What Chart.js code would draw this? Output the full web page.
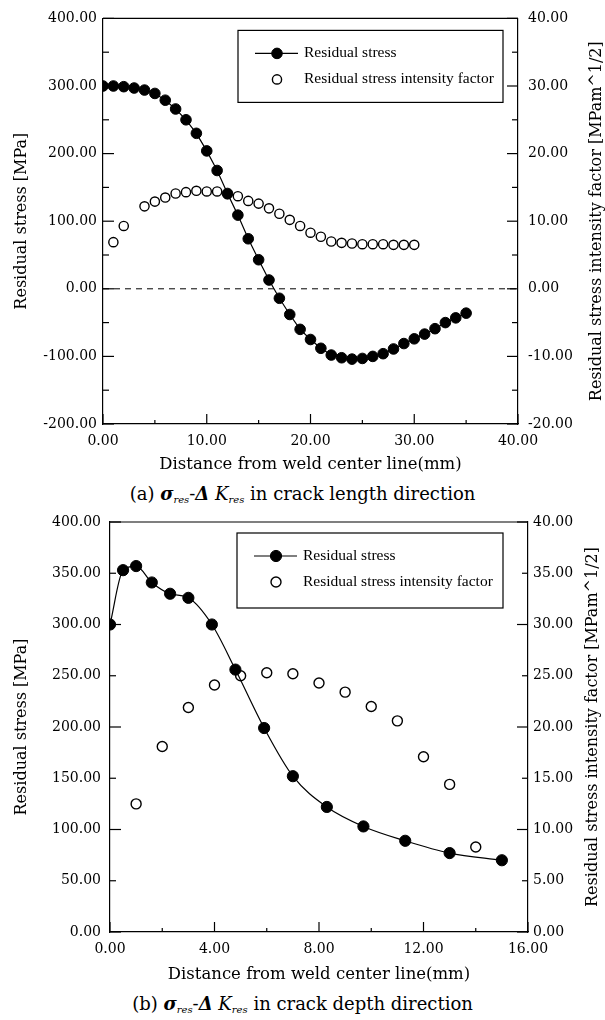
<!DOCTYPE html>
<html><head><meta charset="utf-8">
<script src="https://cdn.jsdelivr.net/npm/chart.js@4.4.1/dist/chart.umd.min.js"></script>
<style>
html,body{margin:0;padding:0;background:#fff;}
body{width:605px;height:1020px;position:relative;overflow:hidden;font-family:"DejaVu Serif",serif;color:#000;}
canvas{position:absolute;left:0;}
.cap{position:absolute;left:0;width:605px;text-align:center;font-size:18px;line-height:22px;white-space:nowrap;}
.cap sub{font-size:10px;line-height:0;vertical-align:-3px;font-style:italic;}
.cap .g{font-style:italic;font-weight:bold;}
.cap .d{font-style:italic;font-weight:bold;}
</style></head><body>
<canvas id="c1" width="605" height="480" style="top:0px"></canvas>
<div class="cap" style="top:483px">(a) <span class="g">σ</span><sub>res</sub>-<span class="d">Δ</span> <i>K</i><sub>res</sub> in crack length direction</div>
<canvas id="c2" width="605" height="490" style="top:500px"></canvas>
<div class="cap" style="top:993px">(b) <span class="g">σ</span><sub>res</sub>-<span class="d">Δ</span> <i>K</i><sub>res</sub> in crack depth direction</div>
<script>
// ---------- DATA ----------
// (a) crack length direction
const topStressX = [0,1,2,3,4,5,6,7,8,9,10,11,12,13,14,15,16,17,18,19,20,21,22,23,24,25,26,27,28,29,30,31,32,33,34,35];
const topStressY = [300,300,299,297,294,289,279,266,250,230,204,175,141,109,74,43,13,-14,-38,-60,-75,-88,-98,-102,-104,-103,-100,-96,-89,-81,-74,-67,-59,-50,-43,-36];
const topKX = [1,2,4,5,6,7,8,9,10,11,12,13,14,15,16,17,18,19,20,21,22,23,24,25,26,27,28,29,30];
const topKY = [6.9,9.3,12.2,12.9,13.5,14.1,14.3,14.5,14.4,14.4,14.0,13.7,13.0,12.6,11.9,11.1,10.2,9.3,8.3,7.7,7.0,6.8,6.7,6.6,6.6,6.6,6.5,6.5,6.5];
const topZeroX = [0,40];
const topZeroY = [0,0];
// (b) crack depth direction
const botStressX = [0,0.5,1.0,1.6,2.3,3.0,3.9,4.8,5.9,7.0,8.3,9.7,11.3,13.0,15.0];
const botStressY = [300,353,357,341,330,326,300,256,199,152,122,103,89,77,70];
const botKX = [1,2,3,4,5,6,7,8,9,10,11,12,13,14];
const botKY = [12.5,18.1,21.9,24.1,25.0,25.3,25.2,24.3,23.4,22.0,20.6,17.1,14.4,8.3];

// tick values (all tick marks) and labelled ticks
const topXTicks = [0,5,10,15,20,25,30,35,40];
const topXLabels = [0,10,20,30,40];
const topYTicks = [-200,-150,-100,-50,0,50,100,150,200,250,300,350,400];
const topYLabels = [-200,-100,0,100,200,300,400];
const topY2Ticks = [-20,-15,-10,-5,0,5,10,15,20,25,30,35,40];
const topY2Labels = [-20,-10,0,10,20,30,40];
const botXTicks = [0,2,4,6,8,10,12,14,16];
const botXLabels = [0,4,8,12,16];
const botYTicks = [0,50,100,150,200,250,300,350,400];
const botYLabels = [0,50,100,150,200,250,300,350,400];
const botY2Ticks = [0,5,10,15,20,25,30,35,40];
const botY2Labels = [0,5,10,15,20,25,30,35,40];

const xTitle = 'Distance from weld center line(mm)';
const yTitle = 'Residual stress [MPa]';
const y2Title = 'Residual stress intensity factor [MPam^1/2]';
const seriesNames = ['Residual stress','Residual stress intensity factor'];

// ---------- HELPERS ----------
Chart.defaults.font.family = '"DejaVu Serif", serif';
Chart.defaults.font.size = 14;
Chart.defaults.color = '#000';

const pts = (xs, ys) => xs.map((x, i) => ({x, y: ys[i]}));

function decor(o) {
  return {
    id: 'decor',
    afterDraw(chart) {
      const ctx = chart.ctx, a = chart.chartArea;
      ctx.save();
      ctx.strokeStyle = '#000';
      ctx.lineWidth = 1.2;
      ctx.beginPath(); ctx.moveTo(a.left, a.top); ctx.lineTo(a.right, a.top); ctx.stroke();
      const tick = (scale, majors, side, big, small) => {
        scale.ticks.forEach(t => {
          const len = majors.includes(t.value) ? big : small;
          const p = scale.getPixelForValue(t.value);
          ctx.beginPath();
          if (side === 'x') { ctx.moveTo(p, a.bottom); ctx.lineTo(p, a.bottom - len); }
          else if (side === 'l') { ctx.moveTo(a.left, p); ctx.lineTo(a.left + len, p); }
          else { ctx.moveTo(a.right, p); ctx.lineTo(a.right - len, p); }
          ctx.stroke();
        });
      };
      tick(chart.scales.x, o.xMajor, 'x', 10, 4);
      tick(chart.scales.y, o.yMajor, 'l', 11, 6);
      tick(chart.scales.y2, o.y2Major, 'r', 11, 6);

      // legend inside plot
      const lx = a.left + o.legend.dx, ly = a.top + o.legend.dy, lw = o.legend.w, lh = o.legend.h;
      ctx.lineWidth = 1.2;
      ctx.strokeRect(lx, ly, lw, lh);
      const ds = chart.data.datasets.filter(d => d.inLegend);
      ds.forEach((d, i) => {
        const cy = ly + 23 + i * 26;
        const cx = lx + 39;
        if (d.showLine !== false) {
          ctx.beginPath(); ctx.lineWidth = 1.2; ctx.moveTo(lx + 17, cy); ctx.lineTo(lx + 60, cy); ctx.stroke();
        }
        ctx.beginPath();
        ctx.arc(cx, cy, d.pointRadius, 0, Math.PI * 2);
        ctx.fillStyle = d.pointBackgroundColor;
        ctx.fill();
        ctx.lineWidth = d.pointBorderWidth;
        ctx.strokeStyle = '#000';
        ctx.stroke();
        ctx.fillStyle = '#000';
        ctx.font = '15.5px "Liberation Serif", serif';
        ctx.textAlign = 'left';
        ctx.textBaseline = 'middle';
        ctx.fillText(d.label, lx + 66, cy);
      });

      // right axis title (reads bottom to top)
      ctx.save();
      ctx.translate(o.y2TitleX, (a.top + a.bottom) / 2);
      ctx.rotate(-Math.PI / 2);
      ctx.font = '16px "DejaVu Serif", serif';
      ctx.textAlign = 'center';
      ctx.textBaseline = 'middle';
      ctx.fillStyle = '#000';
      ctx.fillText(y2Title, 0, 0);
      ctx.restore();
      ctx.restore();
    }
  };
}

function makeChart(id, c) {
  const ticksFrom = (vals) => (s) => { s.ticks = vals.map(v => ({value: v})); };
  const fmt = (labels) => (v) => labels.includes(v) ? v.toFixed(2) : '';
  const datasets = [
    { label: seriesNames[0], inLegend: true, data: pts(c.sX, c.sY), yAxisID: 'y',
      borderColor: '#000', borderWidth: 1.2, backgroundColor: '#000',
      pointBackgroundColor: '#000', pointBorderColor: '#000', pointBorderWidth: 1,
      pointRadius: c.fr, showLine: true, tension: c.tension, cubicInterpolationMode: c.interp },
    { label: seriesNames[1], inLegend: true, data: pts(c.kX, c.kY), yAxisID: 'y2',
      borderColor: '#000', backgroundColor: '#fff', showLine: false,
      pointBackgroundColor: '#fff', pointBorderColor: '#000', pointBorderWidth: 1.4,
      pointRadius: c.or }
  ];
  if (c.zX) {
    datasets.push({ label: '', inLegend: false, data: pts(c.zX, c.zY), yAxisID: 'y',
      borderColor: '#000', borderWidth: 1, borderDash: [6, 5], pointRadius: 0, showLine: true });
  }
  return new Chart(document.getElementById(id), {
    type: 'scatter',
    data: { datasets },
    options: {
      responsive: false, animation: false, devicePixelRatio: 1,
      layout: { padding: { top: c.padTop, left: 0, right: 0, bottom: 0 } },
      plugins: { legend: { display: false }, tooltip: { enabled: false } },
      scales: {
        x: { type: 'linear', min: c.xMin, max: c.xMax,
          afterBuildTicks: ticksFrom(c.xTicks),
          afterFit: (s) => { s.height = c.xH; },
          grid: { display: false, drawTicks: false },
          border: { color: '#000', width: 1.2 },
          ticks: { padding: 9, autoSkip: false, maxRotation: 0, callback: fmt(c.xLabels) },
          title: { display: true, text: xTitle, font: { size: 16.5 }, padding: { top: 0, bottom: 5 } } },
        y: { type: 'linear', position: 'left', min: c.yMin, max: c.yMax,
          afterBuildTicks: ticksFrom(c.yTicks),
          afterFit: (s) => { s.width = c.yW; },
          grid: { display: false, drawTicks: false },
          border: { color: '#000', width: 1.2 },
          ticks: { padding: c.yPad, autoSkip: false, callback: fmt(c.yLabels) },
          title: { display: true, text: yTitle, font: { size: 16 }, padding: { top: 12, bottom: 0 } } },
        y2: { type: 'linear', position: 'right', min: c.y2Min, max: c.y2Max,
          afterBuildTicks: ticksFrom(c.y2Ticks),
          afterFit: (s) => { s.width = c.y2W; },
          grid: { display: false, drawTicks: false },
          border: { color: '#000', width: 1.2 },
          ticks: { padding: c.y2Pad, autoSkip: false, callback: fmt(c.y2Labels) } }
      }
    },
    plugins: [decor({ xMajor: c.xLabels, yMajor: c.yMajor, y2Major: c.y2Major,
      legend: c.legend, y2TitleX: c.y2TitleX })]
  });
}

makeChart('c1', {
  sX: topStressX, sY: topStressY, kX: topKX, kY: topKY, zX: topZeroX, zY: topZeroY,
  fr: 5.3, or: 4.6, tension: 0, interp: 'default',
  padTop: 15, xH: 56, yW: 103, y2W: 87, yPad: 6, y2Pad: 10,
  xMin: 0, xMax: 40, xTicks: topXTicks, xLabels: topXLabels,
  yMin: -200, yMax: 400, yTicks: topYTicks, yLabels: topYLabels, yMajor: topYLabels,
  y2Min: -20, y2Max: 40, y2Ticks: topY2Ticks, y2Labels: topY2Labels, y2Major: topY2Labels,
  legend: { dx: 135, dy: 12, w: 265, h: 72 }, y2TitleX: 597
});

makeChart('c2', {
  sX: botStressX, sY: botStressY, kX: botKX, kY: botKY,
  fr: 5.6, or: 5, tension: 0.4, interp: 'monotone',
  padTop: 22, xH: 58, yW: 110, y2W: 77, yPad: 9, y2Pad: 5,
  xMin: 0, xMax: 16, xTicks: botXTicks, xLabels: botXLabels,
  yMin: 0, yMax: 400, yTicks: botYTicks, yLabels: botYLabels, yMajor: [0,100,200,300,400],
  y2Min: 0, y2Max: 40, y2Ticks: botY2Ticks, y2Labels: botY2Labels, y2Major: [0,10,20,30,40],
  legend: { dx: 127, dy: 11, w: 266, h: 75 }, y2TitleX: 593
});
</script>
</body></html>
